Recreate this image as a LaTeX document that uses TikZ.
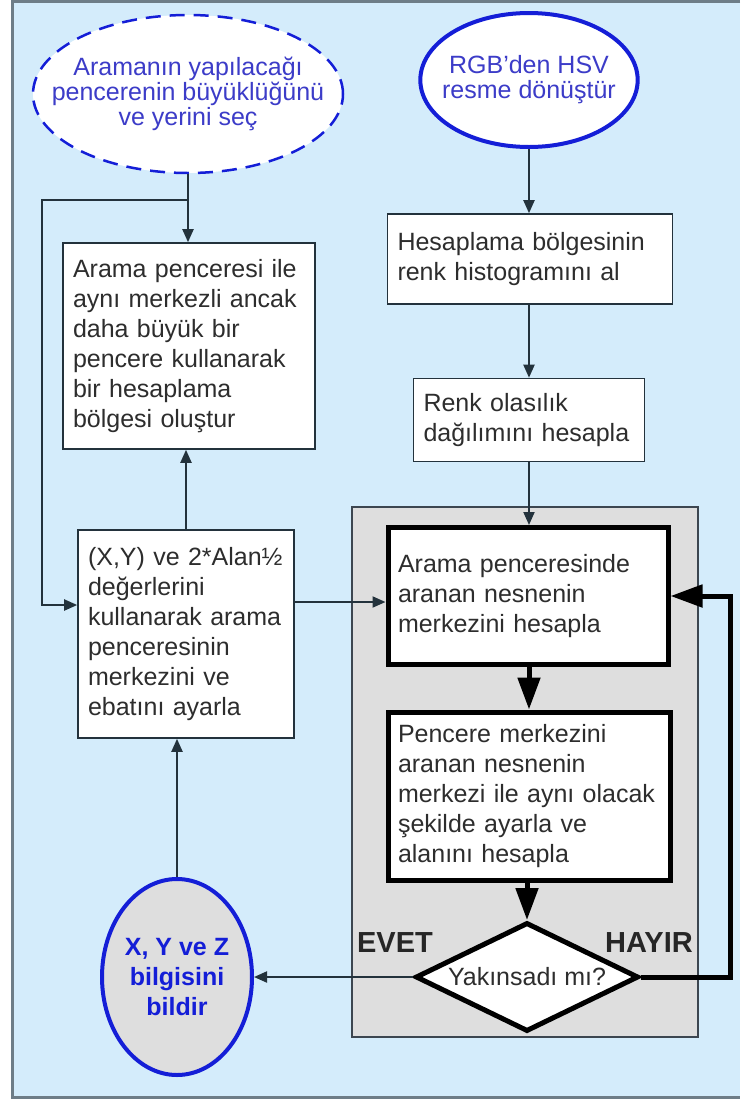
\documentclass[tikz,border=0pt]{standalone}
\usepackage{fontspec}
\setmainfont{Liberation Sans}
\usetikzlibrary{positioning, arrows.meta, shapes.geometric}

\definecolor{bgblue}{RGB}{212,236,251}
\definecolor{framegray}{RGB}{110,125,135}
\definecolor{grpgray}{RGB}{222,222,222}
\definecolor{grpedge}{RGB}{60,70,80}
\definecolor{txtblue}{RGB}{60,60,200}
\definecolor{edgeblue}{RGB}{20,30,215}
\definecolor{txtgray}{RGB}{45,45,45}
\definecolor{lineclr}{RGB}{35,50,60}

\begin{document}
\begin{tikzpicture}[x=1pt, y=-1pt, >={Triangle[length=13pt, width=11pt]},
  box/.style={draw=lineclr, line width=1.6pt, fill=white, text=txtgray, align=left,
    inner xsep=10pt, inner ysep=0pt, font=\fontsize{25}{30}\selectfont},
  fatbox/.style={box, draw=black, line width=5pt},
  startell/.style={ellipse, fill=white, text=txtblue, align=center, inner xsep=-40pt,
    inner ysep=0pt, font=\fontsize{25}{25}\selectfont},
  outell/.style={ellipse, draw=edgeblue, line width=4pt, fill=grpgray, text=edgeblue,
    align=center, inner sep=0pt, font=\fontsize{25}{30}\selectfont\bfseries},
  dec/.style={diamond, aspect=2, draw=black, line width=5pt, fill=white, text=txtgray,
    inner sep=0pt, font=\fontsize{25}{30}\selectfont},
  grp/.style={draw=grpedge, line width=1.2pt, fill=grpgray},
  lbl/.style={text=black!85, font=\fontsize{29}{30}\selectfont\bfseries},
  thinline/.style={draw=lineclr, line width=2pt},
  fat/.style={draw=black, line width=5pt, -{Triangle[length=32pt, width=22pt]}}]

\useasboundingbox (0,0) rectangle (740,1101);
% page and frame
\fill[white] (0,0) rectangle (740,1101);
\fill[bgblue] (12,1.5) rectangle (740,1097.5);
\draw[framegray, line width=3pt] (740,1.5) -- (12,1.5) -- (12,1097.5) -- (740,1097.5);

% grey loop area
\node[grp, minimum width=346pt, minimum height=530pt] (loop) at (525,772) {};

% nodes
\node[startell, draw=edgeblue, line width=2.5pt, dash pattern=on 15pt off 9pt,
  minimum width=310pt, minimum height=158pt] (ask) at (188,94)
  {Aramanın yapılacağı\\pencerenin büyüklüğünü\\ve yerini seç};
\node[startell, draw=edgeblue, line width=4pt, inner xsep=-10pt,
  minimum width=214pt, minimum height=134pt] (rgb) at (529,80)
  {RGB’den HSV\\resme dönüştür};
\node[box, text width=232pt, minimum height=206pt] (region) at (189,346)
  {Arama penceresi ile\\aynı merkezli ancak\\daha büyük bir\\pencere kullanarak\\bir hesaplama\\bölgesi oluştur};
\node[box, text width=196pt, minimum height=208pt] (adjust) at (186,634)
  {(X,Y) ve 2*Alan½\\değerlerini\\kullanarak arama\\penceresinin\\merkezini ve\\ebatını ayarla};
\node[box, text width=265pt, minimum height=90pt] (hist) at (530,259)
  {Hesaplama bölgesinin\\renk histogramını al};
\node[box, text width=211pt, minimum height=83pt] (prob) at (529,420)
  {Renk olasılık\\dağılımını hesapla};
\node[fatbox, text width=260pt, minimum height=137pt] (center) at (528,596)
  {Arama penceresinde\\aranan nesnenin\\merkezini hesapla};
\node[fatbox, text width=262pt, minimum height=168pt] (move) at (529,796)
  {Pencere merkezini\\aranan nesnenin\\merkezi ile aynı olacak\\şekilde ayarla ve\\alanını hesapla};
\node[dec, minimum width=223pt, minimum height=109pt] (conv) at (527,977) {Yakınsadı mı?};
\node[outell, minimum width=150pt, minimum height=196pt] (out) at (177,977)
  {X, Y ve Z\\bilgisini\\bildir};
\node[lbl] (yes) at (395,943) {EVET};
\node[lbl] (no) at (649,943) {HAYIR};

% connectors
\coordinate (fb) at (42,200);
\draw[thinline, ->] (ask.south) -- (ask.south |- region.north);
\draw[thinline, ->] (ask.south |- fb) -- (fb) |- ([yshift=29pt]adjust.west);
\draw[thinline, ->] (adjust.north) -- (adjust.north |- region.south);
\draw[thinline, ->] (out.north) -- (out.north |- adjust.south);
\draw[thinline, ->] ([yshift=32pt]adjust.east) -- ([yshift=32pt]adjust.east -| center.west);
\draw[thinline, ->] (rgb.south) -- (rgb.south |- hist.north);
\draw[thinline, ->] (hist.south -| prob.north) -- (prob.north);
\draw[thinline, ->] (prob.south) -- (prob.south |- center.north);
\draw[fat] (center.south -| move.north) -- (move.north);
\draw[fat] (move.south -| conv.north) -- (conv.north);
\draw[fat] (conv.east) -- ++(89,0) |- (center.east);
\draw[thinline, ->] (conv.west) -- (out.east);
\end{tikzpicture}
\end{document}
